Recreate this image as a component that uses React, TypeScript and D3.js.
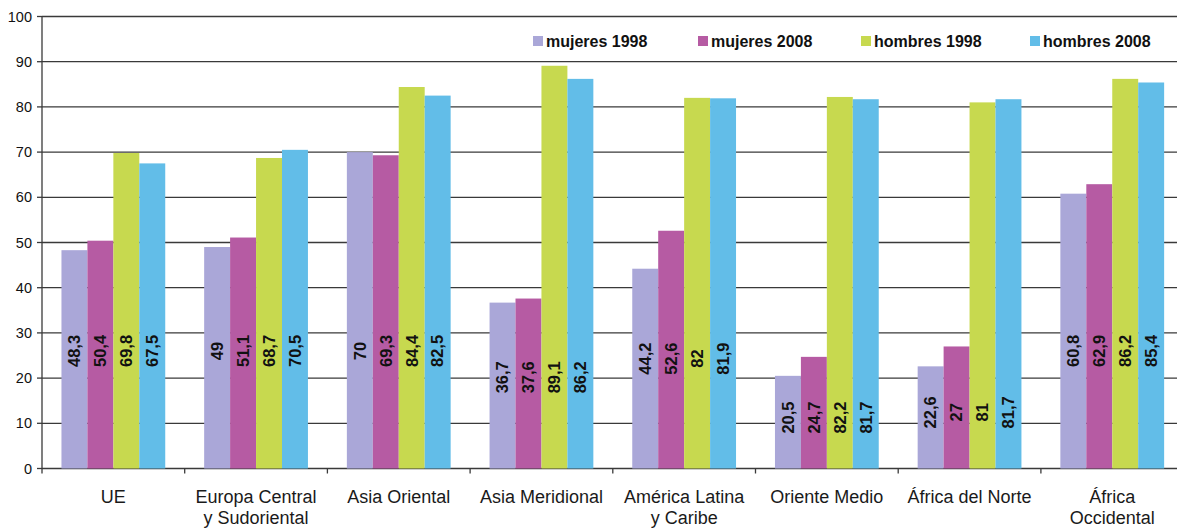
import React from "react";
import * as d3 from "d3";

// Tasa de actividad por región y sexo, 1998 y 2008
const categories: string[][] = [
  ["UE"],
  ["Europa Central", "y Sudoriental"],
  ["Asia Oriental"],
  ["Asia Meridional"],
  ["América Latina", "y Caribe"],
  ["Oriente Medio"],
  ["África del Norte"],
  ["África", "Occidental"],
];

const seriesNames = ["mujeres 1998", "mujeres 2008", "hombres 1998", "hombres 2008"];

const mujeres1998 = [48.3, 49, 70, 36.7, 44.2, 20.5, 22.6, 60.8];
const mujeres2008 = [50.4, 51.1, 69.3, 37.6, 52.6, 24.7, 27, 62.9];
const hombres1998 = [69.8, 68.7, 84.4, 89.1, 82, 82.2, 81, 86.2];
const hombres2008 = [67.5, 70.5, 82.5, 86.2, 81.9, 81.7, 81.7, 85.4];

const yTicks = [0, 10, 20, 30, 40, 50, 60, 70, 80, 90, 100];

const colors = ["#aaa7d8", "#b65ba3", "#c7d94f", "#62bde8"];

const W = 1177;
const H = 529;
const FONT = "'Liberation Sans', Arial, Helvetica, sans-serif";

export default function App() {
  const series = [mujeres1998, mujeres2008, hombres1998, hombres2008];
  const keys = categories.map((c) => c.join(" "));

  const bandW = 142.7;
  const x0 = 42;
  const x = d3
    .scaleBand<string>()
    .domain(keys)
    .range([x0, x0 + bandW * keys.length])
    .padding(0);

  // Excel-style gap width of 150%: four bars plus 1.5 bar widths of gap
  const gap = (x.bandwidth() * 0.75) / 5.5;
  const xs = d3
    .scaleBand<string>()
    .domain(seriesNames)
    .range([gap, x.bandwidth() - gap])
    .padding(0);

  const y = d3.scaleLinear().domain([0, 100]).range([468.5, 16.5]);

  const fmt = (v: number) => String(v).replace(".", ",");

  const legendX = [533, 698, 861, 1030];

  return (
    <svg
      width={W}
      height={H}
      style={{ position: "absolute", left: 0, top: 0, background: "#fff" }}
      fontFamily={FONT}
    >
      {/* horizontal gridlines */}
      {yTicks.map((t) => (
        <line
          key={"g" + t}
          x1={x0}
          x2={W}
          y1={y(t)}
          y2={y(t)}
          stroke="#3a3a3a"
          strokeWidth={1.3}
        />
      ))}
      {/* y axis */}
      <line x1={x0} x2={x0} y1={y(0)} y2={y(100)} stroke="#3a3a3a" strokeWidth={1.3} />
      {yTicks.map((t) => (
        <g key={"t" + t}>
          <line x1={x0 - 5} x2={x0} y1={y(t)} y2={y(t)} stroke="#3a3a3a" strokeWidth={1.3} />
          <text
            x={32}
            y={y(t)}
            dy="0.35em"
            textAnchor="end"
            fontSize={14.5}
            fill="#111"
          >
            {t}
          </text>
        </g>
      ))}

      {/* bars */}
      {keys.map((k, ci) =>
        series.map((s, si) => {
          const bx = (x(k) as number) + (xs(seriesNames[si]) as number);
          return (
            <rect
              key={k + si}
              x={bx}
              y={y(s[ci])}
              width={xs.bandwidth()}
              height={y(0) - y(s[ci])}
              fill={colors[si]}
            />
          );
        })
      )}

      {/* value labels */}
      {keys.map((k, ci) => {
        const groupMin = d3.min(series, (s) => s[ci]) as number;
        const anchor = Math.min(groupMin * 0.55, 26);
        return series.map((s, si) => {
          const cx = (x(k) as number) + (xs(seriesNames[si]) as number) + xs.bandwidth() / 2;
          const cy = y(anchor);
          return (
            <text
              key={"l" + k + si}
              transform={`translate(${cx},${cy}) rotate(-90)`}
              textAnchor="middle"
              dy="0.35em"
              fontSize={16.5}
              fontWeight="bold"
              fill="#111"
            >
              {fmt(s[ci])}
            </text>
          );
        });
      })}

      {/* x axis ticks */}
      {keys.map((k, ci) => (
        <line
          key={"xt" + ci}
          x1={(x(k) as number) + x.bandwidth()}
          x2={(x(k) as number) + x.bandwidth()}
          y1={y(0)}
          y2={y(0) + 5}
          stroke="#3a3a3a"
          strokeWidth={1.3}
        />
      ))}
      <line x1={x0} x2={x0} y1={y(0)} y2={y(0) + 5} stroke="#3a3a3a" strokeWidth={1.3} />

      {/* category labels */}
      {categories.map((lines, ci) => (
        <text
          key={"c" + ci}
          x={(x(keys[ci]) as number) + x.bandwidth() / 2}
          y={503}
          textAnchor="middle"
          fontSize={18}
          fill="#1a1a1a"
        >
          {lines.map((ln, li) => (
            <tspan key={li} x={(x(keys[ci]) as number) + x.bandwidth() / 2} dy={li === 0 ? 0 : 21}>
              {ln}
            </tspan>
          ))}
        </text>
      ))}

      {/* legend */}
      <rect x={520} y={28} width={660} height={28} fill="#fff" />
      {seriesNames.map((n, i) => (
        <g key={"lg" + i}>
          <rect x={legendX[i]} y={36} width={10} height={10} fill={colors[i]} />
          <text x={legendX[i] + 13} y={47} fontSize={16} fontWeight="bold" fill="#111">
            {n}
          </text>
        </g>
      ))}
    </svg>
  );
}
